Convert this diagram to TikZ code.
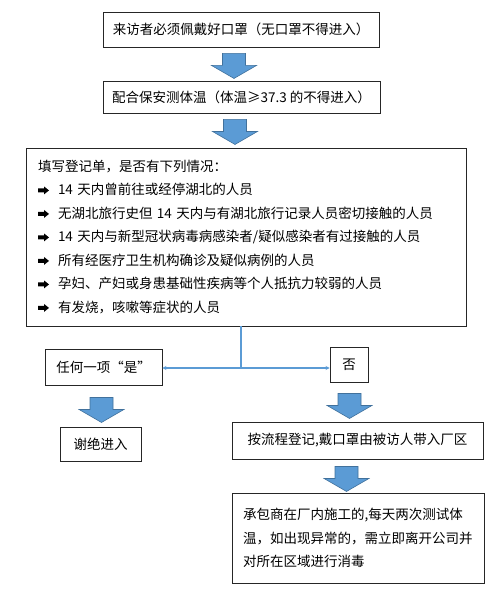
\documentclass[tikz,border=0pt]{standalone}
\usepackage{fontspec}
\setmainfont{Noto Sans CJK SC}
\usetikzlibrary{positioning, arrows.meta}

\definecolor{arrowblue}{HTML}{5B9BD5}
\definecolor{arrowedge}{HTML}{41719C}

\newcommand{\itemmark}{\makebox[20pt][l]{\tikz[baseline=0pt, x=1pt, y=1pt]
  \fill (0,2.5) -- (6,2.5) -- (6,0.5) -- (11,4.5) -- (6,8.5) -- (6,6.5)
  -- (0,6.5) -- cycle;}}

\tikzset{
  box/.style={draw=black!85, line width=0.9pt, inner sep=0pt,
    font=\fontsize{13.5}{23.5}\selectfont},
  link/.style={draw=arrowblue, line width=1.1pt},
  blockdown/.pic={
    \filldraw[fill=arrowblue, draw=arrowedge, line width=0.6pt]
      (-11.5,0) -- (-11.5,12) -- (-22.5,12) -- (0,25) -- (22.5,12)
      -- (11.5,12) -- (11.5,0) -- cycle;
  }
}

\begin{document}
\begin{tikzpicture}[x=1pt, y=-1pt]
      \useasboundingbox (0,0) rectangle (501,607);

      % Boxes
      \node[box, minimum width=276pt, minimum height=35pt] (visit) at (241,29.5)
  {来访者必须佩戴好口罩（无口罩不得进入）};
      \node[box, minimum width=277pt, minimum height=32pt] (temp) at (241.5,97)
  {配合保安测体温（体温≥37.3 的不得进入）};
      \node[box, minimum width=440pt, minimum height=178pt, inner xsep=12pt,
        text width=416pt, align=left] (check) at (246,237)
  {填写登记单，是否有下列情况：\\
   \itemmark 14 天内曾前往或经停湖北的人员\\
   \itemmark 无湖北旅行史但 14 天内与有湖北旅行记录人员密切接触的人员\\
   \itemmark 14 天内与新型冠状病毒病感染者/疑似感染者有过接触的人员\\
   \itemmark 所有经医疗卫生机构确诊及疑似病例的人员\\
   \itemmark 孕妇、产妇或身患基础性疾病等个人抵抗力较弱的人员\\
   \itemmark 有发烧，咳嗽等症状的人员};
      \node[box, minimum width=117pt, minimum height=36pt] (yes) at (103.5,367)
  {任何一项“是”};
      \node[box, minimum width=38pt, minimum height=35pt] (no) at (349,364.5)
  {否};
      \node[box, minimum width=81pt, minimum height=34pt] (refuse) at (100.5,444)
  {谢绝进入};
      \node[box, minimum width=251pt, minimum height=37pt] (register) at (357.5,440.5)
  {按流程登记,戴口罩由被访人带入厂区};
      \node[box, minimum width=252pt, minimum height=90pt, inner xsep=11pt,
        text width=230pt, align=left] (contractor) at (358,538)
  {承包商在厂内施工的,每天两次测试体\\
   温，如出现异常的，需立即离开公司并\\
   对所在区域进行消毒};

      % Block arrows
      \pic at ([shift={(-7,6)}]visit.south) {blockdown};
      \pic at ([shift={(-6.5,6)}]temp.south) {blockdown};
      \pic at ([shift={(-2,12)}]yes.south) {blockdown};
      \pic at ([shift={(0.5,11)}]no.south) {blockdown};
      \pic at ([shift={(-11,7)}]register.south) {blockdown};

      % Split
      \coordinate (split) at (241,368);
      \draw[link] (check.south -| split) -- (split);
      \draw[link, -{Stealth[length=4pt, width=4pt]}] (split) -- (yes.east |- split);
      \draw[link, -{Stealth[length=4pt, width=4pt]}] (split) -- (no.west |- split);
  \end{tikzpicture}
\end{document}
